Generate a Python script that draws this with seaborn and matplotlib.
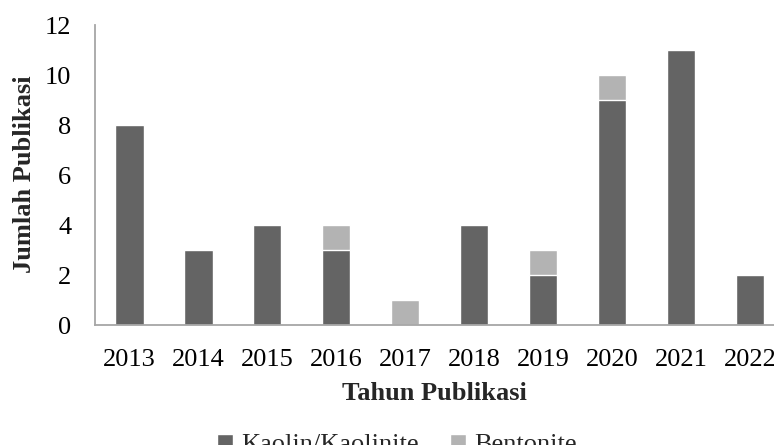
import matplotlib
matplotlib.use("Agg")
import matplotlib.pyplot as plt
import seaborn as sns
import pandas as pd
from matplotlib.patches import Patch

years = ["2013", "2014", "2015", "2016", "2017", "2018", "2019", "2020", "2021", "2022"]
kaolin = [8, 3, 4, 3, 0, 4, 2, 9, 11, 2]
bentonite = [0, 0, 0, 1, 1, 0, 1, 1, 0, 0]
y_ticks = [0, 2, 4, 6, 8, 10, 12]

dark = "#646464"
light = "#b3b3b3"
axis_col = "#a6a6a6"

sns.set_theme(style="white")
plt.rcParams["font.family"] = ["Liberation Serif", "DejaVu Serif"]

df = pd.DataFrame({
    "year": years,
    "kaolin": kaolin,
    "total": [k + b for k, b in zip(kaolin, bentonite)],
})

fig = plt.figure(figsize=(7.74, 4.45), dpi=100)
ax = fig.add_axes([95 / 774, 120 / 445, 679 / 774, 300 / 445])

sns.barplot(data=df, x="year", y="total", color=light, saturation=1, width=0.41, ax=ax)
sns.barplot(data=df, x="year", y="kaolin", color=dark, saturation=1, width=0.41, ax=ax)

ax.set_ylim(0, 12)
ax.set_xlim(-0.5, 9.35)
ax.set_yticks(y_ticks)
ax.set_yticklabels([str(t) for t in y_ticks])
ax.tick_params(axis="both", length=0, labelsize=19, colors="black")
ax.tick_params(axis="y", pad=17)
ax.tick_params(axis="x", pad=17)

for s in ["top", "right"]:
    ax.spines[s].set_visible(False)
for s in ["left", "bottom"]:
    ax.spines[s].set_color(axis_col)
    ax.spines[s].set_linewidth(1.3)

ax.set_xlabel("Tahun Publikasi", fontsize=19, fontweight="bold", labelpad=8)
ax.set_ylabel("Jumlah Publikasi", fontsize=19, fontweight="bold")
ax.yaxis.set_label_coords(-0.087, 0.503)

handles = [Patch(facecolor=dark, label="Kaolin/Kaolinite"),
           Patch(facecolor=light, label="Bentonite")]
fig.legend(handles=handles, loc="center", bbox_to_anchor=(397 / 774, 0 / 445),
           ncol=2, frameon=False, fontsize=19, handlelength=0.6, handleheight=0.6,
           handletextpad=0.3, columnspacing=1.2, borderaxespad=0)

fig.savefig("out.png", dpi=100)
